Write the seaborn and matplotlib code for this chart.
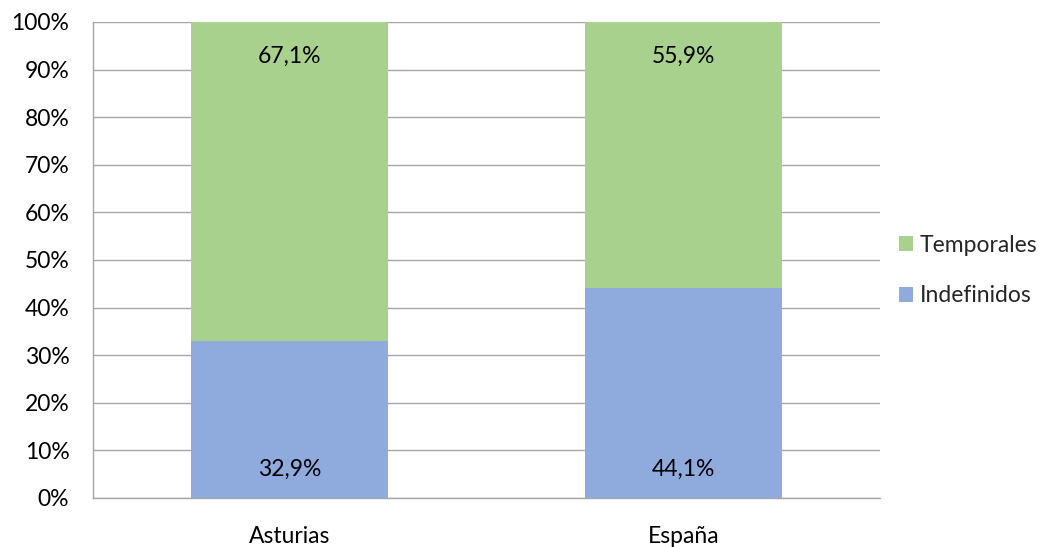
import matplotlib
matplotlib.use("Agg")
import matplotlib.pyplot as plt
import seaborn as sns
import pandas as pd
from matplotlib.ticker import FuncFormatter, FixedLocator

categories = ["Asturias", "España"]
indefinidos = [32.9, 44.1]
temporales = [67.1, 55.9]
series_names = ["Indefinidos", "Temporales"]
colors = {"Indefinidos": "#8FAADC", "Temporales": "#A9D18E"}

sns.set_theme(style="white")
plt.rcParams["font.family"] = ["Lato", "DejaVu Sans"]

FS = 16.5

fig = plt.figure(figsize=(10.53, 5.47), dpi=100)
ax = fig.add_axes([0.0883, 0.0896, 0.7474, 0.8702])

df = pd.DataFrame({"cat": categories, "Indefinidos": indefinidos, "Temporales": temporales})
df["total"] = df["Indefinidos"] + df["Temporales"]

sns.barplot(data=df, x="cat", y="total", color=colors["Temporales"], width=0.5,
            saturation=1, ax=ax, label="Temporales", zorder=2, linewidth=0)
sns.barplot(data=df, x="cat", y="Indefinidos", color=colors["Indefinidos"], width=0.5,
            saturation=1, ax=ax, label="Indefinidos", zorder=3, linewidth=0)

green_c, blue_c = ax.containers[0], ax.containers[1]
ax.bar_label(green_c, labels=[f"{v:.1f}%".replace(".", ",") for v in temporales],
             label_type="edge", padding=-32, fontsize=FS, color="#000000")
for rect, v in zip(blue_c, indefinidos):
    ax.annotate(f"{v:.1f}%".replace(".", ","),
                xy=(rect.get_x() + rect.get_width() / 2, rect.get_y()),
                xytext=(0, 13), textcoords="offset points",
                ha="center", va="bottom", fontsize=FS, color="#000000")

ax.set_xlim(-0.5, 1.5)
ax.set_ylim(0, 100)
ax.set_yticks(range(0, 101, 10))
ax.yaxis.set_major_formatter(FuncFormatter(lambda v, p: f"{int(v)}%"))
ax.grid(axis="y", color="#A6A6A6", linewidth=1, zorder=0)
ax.set_axisbelow(True)
ax.set_xlabel("")
ax.set_ylabel("")

for s in ["top", "right"]:
    ax.spines[s].set_visible(False)
for s in ["left", "bottom"]:
    ax.spines[s].set_color("#A6A6A6")
    ax.spines[s].set_linewidth(1)

ax.tick_params(axis="y", which="major", length=6, width=1, color="#A6A6A6",
               labelsize=FS, pad=11, labelcolor="#000000")
ax.tick_params(axis="x", which="major", length=0, labelsize=FS, pad=20, labelcolor="#000000")
ax.xaxis.set_minor_locator(FixedLocator([-0.5, 0.5, 1.5]))
ax.tick_params(axis="x", which="minor", length=8, width=1, color="#A6A6A6")

handles, labels = ax.get_legend_handles_labels()
order = [labels.index("Temporales"), labels.index("Indefinidos")]
leg = ax.legend([handles[i] for i in order], [labels[i] for i in order],
                loc="center left", bbox_to_anchor=(1.01, 0.478), frameon=False,
                fontsize=FS, handlelength=0.6, handleheight=0.6, handletextpad=0.3,
                labelspacing=1.3, borderpad=0)

fig.savefig("out.png", dpi=100)
